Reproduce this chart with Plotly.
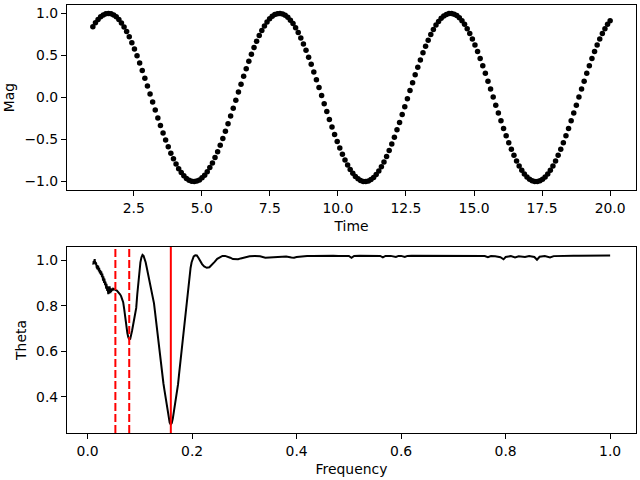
import plotly.graph_objects as go
from plotly.subplots import make_subplots

# ---- top panel: light curve (Time vs Mag) ----
time = [1.000, 1.095, 1.191, 1.286, 1.382, 1.477, 1.573, 1.668, 1.764, 1.859,
        1.955, 2.050, 2.146, 2.241, 2.337, 2.432, 2.528, 2.623, 2.719, 2.814,
        2.910, 3.005, 3.101, 3.196, 3.291, 3.387, 3.482, 3.578, 3.673, 3.769,
        3.864, 3.960, 4.055, 4.151, 4.246, 4.342, 4.437, 4.533, 4.628, 4.724,
        4.819, 4.915, 5.010, 5.106, 5.201, 5.296, 5.392, 5.487, 5.583, 5.678,
        5.774, 5.869, 5.965, 6.060, 6.156, 6.251, 6.347, 6.442, 6.538, 6.633,
        6.729, 6.824, 6.920, 7.015, 7.111, 7.206, 7.302, 7.397, 7.492, 7.588,
        7.683, 7.779, 7.874, 7.970, 8.065, 8.161, 8.256, 8.352, 8.447, 8.543,
        8.638, 8.734, 8.829, 8.925, 9.020, 9.116, 9.211, 9.307, 9.402, 9.497,
        9.593, 9.688, 9.784, 9.879, 9.975, 10.070, 10.166, 10.261, 10.357, 10.452,
        10.548, 10.643, 10.739, 10.834, 10.930, 11.025, 11.121, 11.216, 11.312, 11.407,
        11.503, 11.598, 11.693, 11.789, 11.884, 11.980, 12.075, 12.171, 12.266, 12.362,
        12.457, 12.553, 12.648, 12.744, 12.839, 12.935, 13.030, 13.126, 13.221, 13.317,
        13.412, 13.508, 13.603, 13.698, 13.794, 13.889, 13.985, 14.080, 14.176, 14.271,
        14.367, 14.462, 14.558, 14.653, 14.749, 14.844, 14.940, 15.035, 15.131, 15.226,
        15.322, 15.417, 15.513, 15.608, 15.704, 15.799, 15.894, 15.990, 16.085, 16.181,
        16.276, 16.372, 16.467, 16.563, 16.658, 16.754, 16.849, 16.945, 17.040, 17.136,
        17.231, 17.327, 17.422, 17.518, 17.613, 17.709, 17.804, 17.899, 17.995, 18.090,
        18.186, 18.281, 18.377, 18.472, 18.568, 18.663, 18.759, 18.854, 18.950, 19.045,
        19.141, 19.236, 19.332, 19.427, 19.523, 19.618, 19.714, 19.809, 19.905, 20.000]

mag = [0.841, 0.889, 0.929, 0.960, 0.982, 0.996, 1.000, 0.995, 0.981, 0.959,
       0.927, 0.887, 0.839, 0.784, 0.721, 0.651, 0.577, 0.496, 0.411, 0.322,
       0.230, 0.136, 0.041, -0.054, -0.149, -0.243, -0.334, -0.423, -0.507, -0.587,
       -0.662, -0.730, -0.792, -0.847, -0.893, -0.932, -0.962, -0.984, -0.996, -1.000,
       -0.994, -0.980, -0.956, -0.924, -0.883, -0.834, -0.778, -0.715, -0.645, -0.569,
       -0.488, -0.402, -0.313, -0.221, -0.127, -0.032, 0.064, 0.158, 0.252, 0.343,
       0.431, 0.515, 0.594, 0.668, 0.736, 0.797, 0.851, 0.897, 0.935, 0.965,
       0.986, 0.997, 1.000, 0.993, 0.978, 0.953, 0.920, 0.879, 0.829, 0.772,
       0.708, 0.637, 0.561, 0.480, 0.394, 0.304, 0.212, 0.118, 0.023, -0.073,
       -0.167, -0.261, -0.351, -0.439, -0.523, -0.602, -0.675, -0.742, -0.803, -0.856,
       -0.901, -0.939, -0.967, -0.987, -0.998, -1.000, -0.992, -0.976, -0.951, -0.917,
       -0.874, -0.824, -0.766, -0.701, -0.630, -0.553, -0.472, -0.385, -0.296, -0.203,
       -0.109, -0.014, 0.082, 0.176, 0.269, 0.360, 0.447, 0.531, 0.609, 0.682,
       0.748, 0.808, 0.861, 0.905, 0.942, 0.970, 0.988, 0.998, 0.999, 0.991,
       0.974, 0.948, 0.913, 0.870, 0.819, 0.760, 0.695, 0.623, 0.546, 0.463,
       0.377, 0.287, 0.194, 0.100, 0.005, -0.091, -0.185, -0.278, -0.369, -0.455,
       -0.538, -0.616, -0.688, -0.754, -0.814, -0.865, -0.909, -0.945, -0.972, -0.990,
       -0.999, -0.999, -0.990, -0.972, -0.945, -0.909, -0.865, -0.814, -0.754, -0.688,
       -0.616, -0.538, -0.455, -0.368, -0.278, -0.185, -0.091, 0.005, 0.100, 0.194,
       0.287, 0.377, 0.464, 0.546, 0.623, 0.695, 0.761, 0.819, 0.870, 0.913]

# ---- bottom panel: periodogram (Frequency vs Theta) ----
freq = [0.0100, 0.0105, 0.0110, 0.0115, 0.0120, 0.0125, 0.0130, 0.0135, 0.0140, 0.0145,
        0.0150, 0.0155, 0.0160, 0.0165, 0.0170, 0.0175, 0.0180, 0.0185, 0.0190, 0.0195,
        0.0200, 0.0205, 0.0210, 0.0215, 0.0220, 0.0225, 0.0230, 0.0235, 0.0240, 0.0245,
        0.0250, 0.0255, 0.0260, 0.0265, 0.0270, 0.0275, 0.0280, 0.0285, 0.0290, 0.0295,
        0.0300, 0.0305, 0.0310, 0.0315, 0.0320, 0.0325, 0.0330, 0.0335, 0.0340, 0.0345,
        0.0350, 0.0355, 0.0360, 0.0365, 0.0370, 0.0375, 0.0380, 0.0385, 0.0390, 0.0395,
        0.0400, 0.0405, 0.0410, 0.0415, 0.0420, 0.0425, 0.0430, 0.0435, 0.0440, 0.0450,
        0.0460, 0.0470, 0.0480, 0.0490, 0.0500,
        0.0520, 0.0540, 0.0560, 0.0580, 0.0600, 0.0620, 0.0640, 0.0660,
        0.0680, 0.0700, 0.0720, 0.0740, 0.0760, 0.0780, 0.0800, 0.0815, 0.0830, 0.0850,
        0.0870, 0.0890, 0.0910, 0.0930, 0.0950, 0.0970, 0.0990, 0.1010, 0.1030, 0.1050,
        0.1070, 0.1090, 0.1110, 0.1130, 0.1150, 0.1170, 0.1190, 0.1210, 0.1230, 0.1250,
        0.1270, 0.1290, 0.1310, 0.1330, 0.1350, 0.1370, 0.1390, 0.1410, 0.1430, 0.1450,
        0.1470, 0.1490, 0.1510, 0.1530, 0.1550, 0.1570, 0.1590, 0.1610, 0.1630, 0.1650,
        0.1670, 0.1690, 0.1710, 0.1730, 0.1750, 0.1770, 0.1790, 0.1810, 0.1830, 0.1850,
        0.1870, 0.1890, 0.1910, 0.1930, 0.1950, 0.1970, 0.1990, 0.2010, 0.2030, 0.2060,
        0.2090, 0.2120, 0.2150, 0.2190, 0.2230, 0.2280, 0.2330, 0.2380, 0.2430, 0.2480,
        0.2530, 0.2580, 0.2630, 0.2680, 0.2730, 0.2780, 0.2830, 0.2880, 0.2930, 0.2980,
        0.3030, 0.3100, 0.3200, 0.3300, 0.3400, 0.3500, 0.3600, 0.3700, 0.3800, 0.3900,
        0.3950, 0.4000, 0.4100, 0.4200, 0.4300, 0.4400, 0.4500, 0.4600, 0.4700, 0.4800,
        0.4900, 0.5000, 0.5050, 0.5100, 0.5200, 0.5300, 0.5400, 0.5500, 0.5600, 0.5650,
        0.5700, 0.5800, 0.5900, 0.5950, 0.6000, 0.6070, 0.6120, 0.6200, 0.6300, 0.6400,
        0.6500, 0.6600, 0.6700, 0.6800, 0.6900, 0.7000, 0.7100, 0.7200, 0.7300, 0.7400,
        0.7500, 0.7600, 0.7660, 0.7720, 0.7800, 0.7900, 0.7960, 0.8000, 0.8100, 0.8180,
        0.8250, 0.8370, 0.8450, 0.8550, 0.8600, 0.8650, 0.8750, 0.8850, 0.8920, 0.9000,
        0.9100, 0.9200, 0.9300, 0.9400, 0.9500, 0.9600, 0.9700, 0.9800, 0.9900, 1.0000]

theta = [0.985, 0.990, 0.982, 0.995, 0.988, 1.000, 0.993, 1.004, 0.996, 0.985,
         0.992, 0.980, 0.990, 0.972, 0.982, 0.965, 0.978, 0.960, 0.974, 0.962,
         0.975, 0.955, 0.968, 0.950, 0.965, 0.945, 0.958, 0.942, 0.956, 0.938,
         0.952, 0.935, 0.950, 0.930, 0.945, 0.925, 0.940, 0.915, 0.935, 0.910,
         0.928, 0.905, 0.925, 0.900, 0.918, 0.895, 0.912, 0.890, 0.905, 0.880,
         0.900, 0.875, 0.895, 0.870, 0.890, 0.865, 0.885, 0.855, 0.880, 0.850,
         0.872, 0.852, 0.880, 0.860, 0.885, 0.860, 0.875, 0.855, 0.870, 0.860,
         0.875, 0.872, 0.866, 0.874, 0.872,
         0.870, 0.868, 0.866, 0.861, 0.858, 0.850, 0.842, 0.830,
         0.815, 0.785, 0.745, 0.708, 0.680, 0.660, 0.652, 0.654, 0.665, 0.690,
         0.715, 0.742, 0.765, 0.790, 0.850, 0.910, 0.955, 0.990, 1.012, 1.022,
         1.018, 1.005, 0.990, 0.968, 0.945, 0.925, 0.905, 0.888, 0.868, 0.845,
         0.810, 0.772, 0.730, 0.690, 0.650, 0.605, 0.565, 0.530, 0.495, 0.460,
         0.430, 0.400, 0.370, 0.335, 0.305, 0.287, 0.279, 0.285, 0.305, 0.335,
         0.360, 0.385, 0.415, 0.455, 0.500, 0.545, 0.590, 0.635, 0.680, 0.725,
         0.770, 0.815, 0.850, 0.880, 0.930, 0.965, 0.990, 1.008, 1.016, 1.021,
         1.020, 1.010, 0.995, 0.982, 0.972, 0.966, 0.968, 0.978, 0.992, 1.005,
         1.013, 1.018, 1.018, 1.015, 1.010, 1.004, 1.002, 1.003, 1.007, 1.010,
         1.013, 1.016, 1.018, 1.016, 1.010, 1.011, 1.014, 1.016, 1.015, 1.011,
         1.010, 1.013, 1.016, 1.018, 1.017, 1.018, 1.017, 1.018, 1.019, 1.018,
         1.018, 1.018, 1.010, 1.018, 1.019, 1.018, 1.018, 1.019, 1.018, 1.012,
         1.018, 1.018, 1.013, 1.018, 1.018, 1.013, 1.018, 1.019, 1.019, 1.018,
         1.019, 1.019, 1.019, 1.018, 1.019, 1.019, 1.018, 1.019, 1.019, 1.018,
         1.018, 1.017, 1.012, 1.017, 1.016, 1.012, 1.003, 1.013, 1.017, 1.011,
         1.016, 1.013, 1.017, 1.013, 1.001, 1.014, 1.017, 1.011, 1.017, 1.018,
         1.018, 1.019, 1.019, 1.019, 1.019, 1.019, 1.019, 1.020, 1.020, 1.020]

# candidate frequencies marked with vertical lines
best_freq = [0.1592]
alias_freqs = [0.0531, 0.0796]

FONT = "DejaVu Sans"
FS = 13.9

fig = make_subplots(rows=2, cols=1, vertical_spacing=0.0)

fig.add_trace(go.Scatter(x=time, y=mag, mode="markers",
                         marker=dict(color="black", size=5.5, line=dict(width=0)),
                         showlegend=False), row=1, col=1)

fig.add_trace(go.Scatter(x=freq, y=theta, mode="lines",
                         line=dict(color="black", width=2),
                         showlegend=False), row=2, col=1)

for f in alias_freqs:
    fig.add_shape(type="line", xref="x2", yref="y2 domain", x0=f, x1=f, y0=0, y1=1,
                  line=dict(color="red", width=2, dash="8px,3px"))
for f in best_freq:
    fig.add_shape(type="line", xref="x2", yref="y2 domain", x0=f, x1=f, y0=0, y1=1,
                  line=dict(color="red", width=2))

axis_common = dict(showline=True, linecolor="black", linewidth=1.1, mirror=True,
                   ticks="outside", ticklen=5, tickwidth=1.1, tickcolor="black",
                   showgrid=False, zeroline=False,
                   tickfont=dict(family=FONT, size=FS, color="black"))

fig.update_layout(
    width=640, height=480,
    margin=dict(l=67, r=4, t=5, b=47),
    paper_bgcolor="white", plot_bgcolor="white",
    font=dict(family=FONT, size=FS, color="black"),
    xaxis=dict(domain=[0, 1], range=[0.05, 20.95],
               tickvals=[2.5, 5.0, 7.5, 10.0, 12.5, 15.0, 17.5, 20.0], tickformat=".1f",
               title=dict(text="Time", standoff=6, font=dict(family=FONT, size=FS)),
               anchor="y", **axis_common),
    yaxis=dict(domain=[0.5678, 1.0], range=[-1.1, 1.1],
               tickvals=[-1.0, -0.5, 0.0, 0.5, 1.0], tickformat=".1f",
               title=dict(text="Mag", standoff=6, font=dict(family=FONT, size=FS)),
               anchor="x", **axis_common),
    xaxis2=dict(domain=[0, 1], range=[-0.0395, 1.0495],
                tickvals=[0.0, 0.2, 0.4, 0.6, 0.8, 1.0], tickformat=".1f",
                title=dict(text="Frequency", standoff=6, font=dict(family=FONT, size=FS)),
                anchor="y2", **axis_common),
    yaxis2=dict(domain=[0.0, 0.4346], range=[0.242, 1.057],
                tickvals=[0.4, 0.6, 0.8, 1.0], tickformat=".1f",
                title=dict(text="Theta", standoff=6, font=dict(family=FONT, size=FS)),
                anchor="x2", **axis_common),
)

fig.write_html("out.html")
